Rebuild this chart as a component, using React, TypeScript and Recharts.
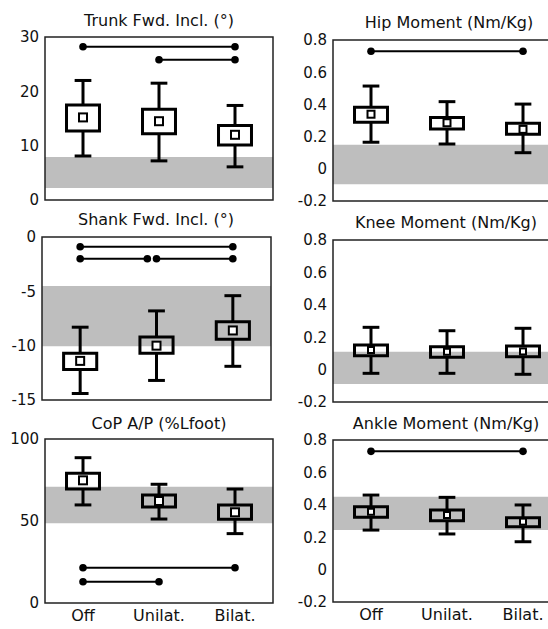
import React from "react";
import { ComposedChart, XAxis, YAxis, ReferenceArea, ReferenceLine, Scatter } from "recharts";

const categories = ["Off", "Unilat.", "Bilat."];
const positions = [1, 2, 3];

// Trunk forward inclination (deg)
const trunkLow = [8.1, 7.2, 6.1];
const trunkQ1 = [12.7, 12.2, 10.1];
const trunkMean = [15.2, 14.5, 12.0];
const trunkQ3 = [17.5, 16.7, 13.7];
const trunkHigh = [22.0, 21.5, 17.4];
const trunkBand = [2.2, 7.9];
const trunkTicks = [0, 10, 20, 30];
const trunkSig = [
  { from: 1, to: 3, y: 28.2 },
  { from: 2, to: 3, y: 25.8 },
];

// Hip moment (Nm/Kg)
const hipLow = [0.165, 0.154, 0.1];
const hipQ1 = [0.289, 0.247, 0.214];
const hipMean = [0.339, 0.286, 0.245];
const hipQ3 = [0.382, 0.318, 0.283];
const hipHigh = [0.514, 0.417, 0.402];
const hipBand = [-0.096, 0.15];
const momentTicks = [-0.2, 0, 0.2, 0.4, 0.6, 0.8];
const hipSig = [{ from: 1, to: 3, y: 0.73 }];

// Shank forward inclination (deg)
const shankLow = [-14.4, -13.2, -11.9];
const shankQ1 = [-12.2, -10.7, -9.4];
const shankMean = [-11.4, -10.0, -8.6];
const shankQ3 = [-10.7, -9.2, -7.8];
const shankHigh = [-8.3, -6.8, -5.4];
const shankBand = [-10.05, -4.5];
const shankTicks = [-15, -10, -5, 0];
const shankSig = [
  { from: 1, to: 3, y: -0.9 },
  { from: 1, to: 1.88, y: -2 },
  { from: 2, to: 3, y: -2 },
];

// Knee moment (Nm/Kg)
const kneeLow = [-0.023, -0.023, -0.029];
const kneeQ1 = [0.086, 0.076, 0.08];
const kneeMean = [0.121, 0.11, 0.112];
const kneeQ3 = [0.152, 0.141, 0.146];
const kneeHigh = [0.261, 0.24, 0.255];
const kneeBand = [-0.089, 0.11];
const kneeSig: { from: number; to: number; y: number }[] = [];

// CoP A/P (%Lfoot)
const copLow = [59.8, 51.2, 42.3];
const copQ1 = [69.5, 58.5, 51.0];
const copMean = [74.8, 62.2, 55.3];
const copQ3 = [79.1, 65.9, 59.8];
const copHigh = [88.6, 72.4, 69.5];
const copBand = [48.6, 70.9];
const copTicks = [0, 50, 100];
const copSig = [
  { from: 1, to: 3, y: 21.5 },
  { from: 1, to: 2, y: 13 },
];

// Ankle moment (Nm/Kg)
const ankleLow = [0.244, 0.22, 0.172];
const ankleQ1 = [0.323, 0.302, 0.265];
const ankleMean = [0.357, 0.337, 0.296];
const ankleQ3 = [0.388, 0.368, 0.32];
const ankleHigh = [0.46, 0.446, 0.399];
const ankleBand = [0.245, 0.45];
const ankleSig = [{ from: 1, to: 3, y: 0.73 }];

const FONT = "'DejaVu Sans', 'Liberation Sans', sans-serif";

type Row = { x: number; low: number; q1: number; mean: number; q3: number; high: number };
type Sig = { from: number; to: number; y: number };

function buildRows(low: number[], q1: number[], mean: number[], q3: number[], high: number[]): Row[] {
  return positions.map((x, i) => ({ x, low: low[i], q1: q1[i], mean: mean[i], q3: q3[i], high: high[i] }));
}

type PanelProps = {
  title: string;
  titleX: number;
  titleY: number;
  chartLeft: number;
  plotLeft: number;
  plotRight: number;
  plotTop: number;
  plotBottom: number;
  domain: [number, number];
  ticks: number[];
  rows: Row[];
  band: number[];
  sig: Sig[];
  showX: boolean;
  markSize: number;
};

function Panel(p: PanelProps) {
  const xAxisH = 26;
  const bottomPad = 14;
  const top = p.plotTop - 10;
  const height = p.plotBottom - p.plotTop + 10 + (p.showX ? xAxisH : bottomPad);
  const width = p.plotRight - p.chartLeft + 5;
  const boxHalf = 0.217;
  const capHalf = 0.11;
  const meanPts = p.rows.map((r) => ({ x: r.x, y: r.mean }));
  const sigPts = p.sig.flatMap((s) => [
    { x: s.from, y: s.y },
    { x: s.to, y: s.y },
  ]);
  const ms = p.markSize;
  return (
    <>
      <div
        style={{
          position: "absolute",
          left: p.titleX - 150,
          width: 300,
          top: p.titleY - 10,
          height: 20,
          lineHeight: "20px",
          textAlign: "center",
          fontFamily: FONT,
          fontSize: 16,
          color: "#111",
          whiteSpace: "nowrap",
        }}
      >
        {p.title}
      </div>
      <div style={{ position: "absolute", left: p.chartLeft, top }}>
        <ComposedChart
          width={width}
          height={height}
          margin={{ top: 10, right: 5, bottom: p.showX ? 0 : bottomPad, left: 0 }}
        >
          <XAxis
            type="number"
            dataKey="x"
            domain={[0.5, 3.5]}
            ticks={positions}
            tickFormatter={(v: number) => categories[v - 1] ?? ""}
            hide={!p.showX}
            height={xAxisH}
            axisLine={false}
            tickLine={false}
            tickSize={5}
            tickMargin={2}
            interval={0}
            allowDataOverflow
            tick={{ fontSize: 16, fill: "#111", fontFamily: FONT }}
          />
          <YAxis
            type="number"
            dataKey="y"
            domain={p.domain}
            ticks={p.ticks}
            width={p.plotLeft - p.chartLeft}
            axisLine={false}
            tickLine={false}
            tickSize={4}
            tickMargin={2}
            interval={0}
            allowDataOverflow
            tick={{ fontSize: 15, fill: "#111", fontFamily: FONT }}
          />
          <ReferenceArea
            x1={0.5}
            x2={3.5}
            y1={p.band[0]}
            y2={p.band[1]}
            fill="#bebebe"
            fillOpacity={1}
            stroke="none"
            ifOverflow="visible"
          />
          {p.rows.map((r) => (
            <ReferenceArea
              key={"box" + r.x}
              x1={r.x - boxHalf}
              x2={r.x + boxHalf}
              y1={r.q1}
              y2={r.q3}
              fill="none"
              fillOpacity={0}
              stroke="#000"
              strokeWidth={3}
              ifOverflow="visible"
            />
          ))}
          {p.rows.map((r) => (
            <ReferenceLine
              key={"wu" + r.x}
              segment={[
                { x: r.x, y: r.q3 },
                { x: r.x, y: r.high },
              ]}
              stroke="#000"
              strokeWidth={3}
              ifOverflow="visible"
            />
          ))}
          {p.rows.map((r) => (
            <ReferenceLine
              key={"wl" + r.x}
              segment={[
                { x: r.x, y: r.low },
                { x: r.x, y: r.q1 },
              ]}
              stroke="#000"
              strokeWidth={3}
              ifOverflow="visible"
            />
          ))}
          {p.rows.map((r) => (
            <ReferenceLine
              key={"cu" + r.x}
              segment={[
                { x: r.x - capHalf, y: r.high },
                { x: r.x + capHalf, y: r.high },
              ]}
              stroke="#000"
              strokeWidth={3}
              ifOverflow="visible"
            />
          ))}
          {p.rows.map((r) => (
            <ReferenceLine
              key={"cl" + r.x}
              segment={[
                { x: r.x - capHalf, y: r.low },
                { x: r.x + capHalf, y: r.low },
              ]}
              stroke="#000"
              strokeWidth={3}
              ifOverflow="visible"
            />
          ))}
          {p.sig.map((s, i) => (
            <ReferenceLine
              key={"sig" + i}
              segment={[
                { x: s.from, y: s.y },
                { x: s.to, y: s.y },
              ]}
              stroke="#000"
              strokeWidth={2}
              ifOverflow="visible"
            />
          ))}
          <Scatter
            data={meanPts}
            isAnimationActive={false}
            shape={(sp: any) => (
              <rect
                x={sp.cx - ms / 2}
                y={sp.cy - ms / 2}
                width={ms}
                height={ms}
                fill="#fff"
                stroke="#000"
                strokeWidth={2}
              />
            )}
          />
          {sigPts.length > 0 && (
            <Scatter
              data={sigPts}
              isAnimationActive={false}
              shape={(sp: any) => <circle cx={sp.cx} cy={sp.cy} r={3.8} fill="#000" />}
            />
          )}
          <ReferenceArea
            x1={0.5}
            x2={3.5}
            y1={p.domain[0]}
            y2={p.domain[1]}
            fill="none"
            fillOpacity={0}
            stroke="#222"
            strokeWidth={1.5}
            ifOverflow="visible"
          />
        </ComposedChart>
      </div>
    </>
  );
}

export default function App() {
  return (
    <div
      style={{
        position: "absolute",
        left: 0,
        top: 0,
        width: 548,
        height: 629,
        overflow: "hidden",
        background: "#fff",
      }}
    >
      <Panel
        title="Trunk Fwd. Incl. (°)"
        titleX={159}
        titleY={21}
        chartLeft={0}
        plotLeft={45}
        plotRight={273}
        plotTop={37}
        plotBottom={200}
        domain={[0, 30]}
        ticks={trunkTicks}
        rows={buildRows(trunkLow, trunkQ1, trunkMean, trunkQ3, trunkHigh)}
        band={trunkBand}
        sig={trunkSig}
        showX={false}
        markSize={8}
      />
      <Panel
        title="Hip Moment (Nm/Kg)"
        titleX={449}
        titleY={23}
        chartLeft={280}
        plotLeft={333}
        plotRight={561}
        plotTop={40}
        plotBottom={201}
        domain={[-0.2, 0.8]}
        ticks={momentTicks}
        rows={buildRows(hipLow, hipQ1, hipMean, hipQ3, hipHigh)}
        band={hipBand}
        sig={hipSig}
        showX={false}
        markSize={7}
      />
      <Panel
        title="Shank Fwd. Incl. (°)"
        titleX={156}
        titleY={220}
        chartLeft={0}
        plotLeft={42}
        plotRight={271}
        plotTop={237}
        plotBottom={400}
        domain={[-15, 0]}
        ticks={shankTicks}
        rows={buildRows(shankLow, shankQ1, shankMean, shankQ3, shankHigh)}
        band={shankBand}
        sig={shankSig}
        showX={false}
        markSize={8}
      />
      <Panel
        title="Knee Moment (Nm/Kg)"
        titleX={446}
        titleY={223}
        chartLeft={280}
        plotLeft={333}
        plotRight={561}
        plotTop={240}
        plotBottom={402}
        domain={[-0.2, 0.8]}
        ticks={momentTicks}
        rows={buildRows(kneeLow, kneeQ1, kneeMean, kneeQ3, kneeHigh)}
        band={kneeBand}
        sig={kneeSig}
        showX={false}
        markSize={6}
      />
      <Panel
        title="CoP A/P (%Lfoot)"
        titleX={159}
        titleY={424}
        chartLeft={0}
        plotLeft={45}
        plotRight={273}
        plotTop={439}
        plotBottom={603}
        domain={[0, 100]}
        ticks={copTicks}
        rows={buildRows(copLow, copQ1, copMean, copQ3, copHigh)}
        band={copBand}
        sig={copSig}
        showX={true}
        markSize={8}
      />
      <Panel
        title="Ankle Moment (Nm/Kg)"
        titleX={446}
        titleY={424}
        chartLeft={280}
        plotLeft={333}
        plotRight={561}
        plotTop={440}
        plotBottom={602}
        domain={[-0.2, 0.8]}
        ticks={momentTicks}
        rows={buildRows(ankleLow, ankleQ1, ankleMean, ankleQ3, ankleHigh)}
        band={ankleBand}
        sig={ankleSig}
        showX={true}
        markSize={6}
      />
    </div>
  );
}
